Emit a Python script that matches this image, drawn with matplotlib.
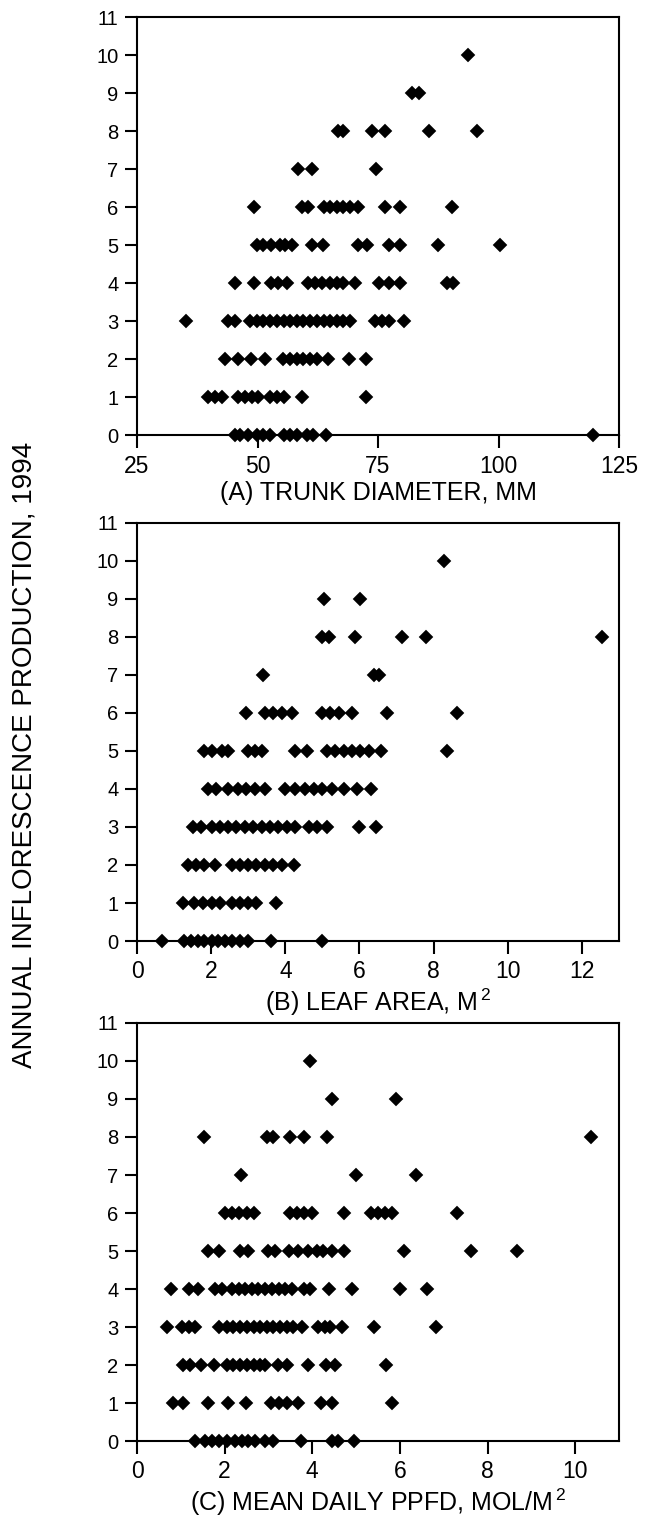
import matplotlib
matplotlib.use('Agg')
from matplotlib import pyplot as plt

plt.rcParams['font.family'] = ['Liberation Sans', 'DejaVu Sans']
plt.rcParams['mathtext.fontset'] = 'custom'
plt.rcParams['mathtext.rm'] = 'Liberation Sans'
plt.rcParams['mathtext.it'] = 'Liberation Sans'

# inflorescence counts (y) for each row of points
levels = [0, 1, 2, 3, 4, 5, 6, 7, 8, 9, 10]

# (A) trunk diameter, mm -- one list per inflorescence count
trunk = [
    [45.3, 46.4, 48.1, 49.8, 51.2, 52.6, 55.4, 56.7, 58.1, 60.2, 61.6, 64.2, 119.5],
    [39.8, 41.2, 42.6, 46.0, 47.4, 48.8, 50.2, 52.6, 54.0, 55.4, 59.2, 72.5],
    [43.3, 46.0, 48.6, 51.6, 55.2, 56.7, 58.1, 59.5, 60.9, 62.3, 64.7, 69.0, 72.5],
    [35.2, 43.9, 45.3, 48.4, 49.8, 51.2, 52.6, 54.0, 55.4, 56.7, 58.1, 59.5, 60.9,
     62.3, 63.7, 65.0, 66.4, 67.8, 69.2, 74.4, 75.8, 77.3, 80.4],
    [45.3, 49.3, 52.9, 54.3, 56.1, 60.5, 61.9, 63.3, 65.0, 66.4, 67.8, 70.2, 75.3,
     77.3, 79.6, 89.3, 90.5],
    [49.8, 51.2, 52.9, 54.7, 55.7, 57.1, 61.4, 63.5, 70.9, 72.7, 77.3, 79.6, 87.5, 100.3],
    [49.3, 59.2, 60.5, 63.7, 65.0, 66.4, 67.8, 69.2, 70.9, 76.5, 79.6, 90.3],
    [58.5, 61.4, 74.5],
    [66.6, 67.7, 73.7, 76.5, 85.6, 95.5],
    [82.0, 83.5],
    [93.7],
]

# (B) leaf area, m2
leaf = [
    [0.68, 1.28, 1.46, 1.64, 1.82, 2.01, 2.19, 2.37, 2.55, 2.77, 3.0, 3.61, 4.99],
    [1.24, 1.55, 1.78, 2.01, 2.23, 2.55, 2.77, 3.0, 3.22, 3.74],
    [1.37, 1.6, 1.82, 2.1, 2.55, 2.77, 3.0, 3.22, 3.45, 3.68, 3.9, 4.24],
    [1.51, 1.73, 2.01, 2.23, 2.46, 2.68, 2.91, 3.13, 3.36, 3.59, 3.81, 4.04, 4.26,
     4.63, 4.85, 5.12, 5.98, 6.45],
    [1.92, 2.14, 2.46, 2.73, 2.95, 3.18, 3.45, 3.99, 4.26, 4.53, 4.76, 4.99, 5.26,
     5.57, 5.93, 6.3],
    [1.82, 2.01, 2.28, 2.46, 3.0, 3.18, 3.36, 4.26, 4.58, 5.12, 5.35, 5.57, 5.8,
     6.02, 6.25, 6.57, 8.37],
    [2.95, 3.45, 3.68, 3.9, 4.17, 4.99, 5.21, 5.44, 5.8, 6.75, 8.62],
    [3.39, 6.39, 6.52],
    [4.99, 5.17, 5.89, 7.15, 7.8, 12.53],
    [5.03, 6.01],
    [8.27],
]

# (C) mean daily PPFD, mol/m2
ppfd = [
    [1.33, 1.56, 1.71, 1.86, 2.05, 2.24, 2.39, 2.54, 2.7, 2.92, 3.11, 3.74, 4.44,
     4.58, 4.96],
    [0.81, 1.06, 1.63, 2.07, 2.48, 3.06, 3.23, 3.42, 3.68, 4.19, 4.46, 5.83],
    [1.06, 1.21, 1.47, 1.75, 2.05, 2.2, 2.35, 2.51, 2.66, 2.81, 2.92, 3.21, 3.42,
     3.9, 4.31, 4.52, 5.68],
    [0.68, 1.03, 1.19, 1.33, 1.86, 2.05, 2.2, 2.35, 2.51, 2.66, 2.81, 2.96, 3.11,
     3.26, 3.42, 3.57, 3.76, 4.14, 4.29, 4.4, 4.67, 5.41, 6.83],
    [0.78, 1.19, 1.4, 1.77, 1.94, 2.16, 2.32, 2.47, 2.62, 2.77, 2.92, 3.08, 3.23,
     3.38, 3.53, 3.82, 3.95, 4.37, 4.9, 6.01, 6.61],
    [1.62, 1.88, 2.35, 2.54, 3.0, 3.15, 3.46, 3.68, 3.91, 4.1, 4.25, 4.44, 4.73,
     6.1, 7.63, 8.68],
    [2.0, 2.16, 2.33, 2.51, 2.68, 3.49, 3.64, 3.82, 3.99, 4.73, 5.34, 5.51, 5.66,
     5.81, 7.3],
    [2.37, 5.0, 6.36],
    [1.52, 2.96, 3.11, 3.49, 3.82, 4.33, 10.36],
    [4.46, 5.92],
    [3.95],
]

panels = [
    (trunk, (25, 125), [25, 50, 75, 100, 125], '(A) TRUNK DIAMETER, MM'),
    (leaf, (0, 13), [0, 2, 4, 6, 8, 10, 12], '(B) LEAF AREA, M$^{\\,2}$'),
    (ppfd, (0, 11), [0, 2, 4, 6, 8, 10], '(C) MEAN DAILY PPFD, MOL/M$^{\\,2}$'),
]

fig = plt.figure(figsize=(6.69, 15.18), dpi=100)
bottoms = [0.7134, 0.3801, 0.0507]

for (rows, xlim, xticks, label), b in zip(panels, bottoms):
    ax = fig.add_axes([0.2048, b, 0.7205, 0.2754])
    for lev, xs in zip(levels, rows):
        ax.plot(xs, [lev] * len(xs), linestyle='none', marker='D', ms=6.4,
                color='black', mec='black', mew=1.3, mfc='black', clip_on=False,
                zorder=3)
    ax.set_xlim(*xlim)
    ax.set_ylim(0, 11)
    ax.set_xticks(xticks)
    ax.set_yticks(range(0, 12))
    ax.tick_params(direction='out', length=9, width=1.5)
    ax.tick_params(axis='y', labelsize=14.5, pad=4.5)
    ax.tick_params(axis='x', labelsize=16.5, pad=5)
    for s in ax.spines.values():
        s.set_linewidth(1.5)
    ax.set_xlabel(label, fontsize=18, labelpad=2.5)

fig.text(0.037, 0.503, 'ANNUAL INFLORESCENCE PRODUCTION, 1994', rotation=90,
         ha='center', va='center', fontsize=20)

plt.savefig('out.png', dpi=100)
